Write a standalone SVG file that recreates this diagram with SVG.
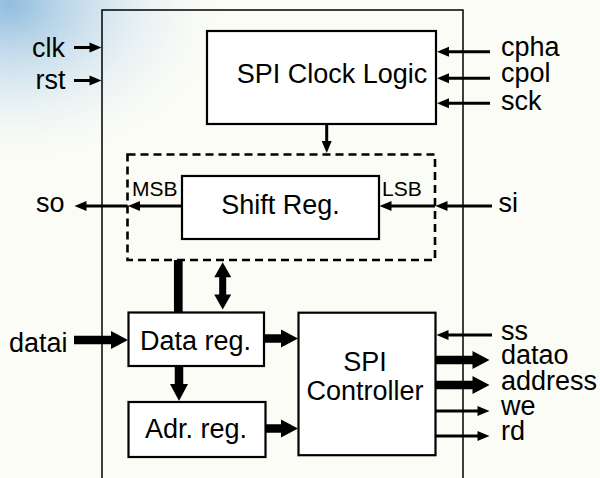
<svg xmlns="http://www.w3.org/2000/svg" width="600" height="478" viewBox="0 0 600 478">
<defs>
<radialGradient id="bg" cx="0" cy="0" r="1" gradientUnits="userSpaceOnUse" gradientTransform="translate(10,5) scale(230,170)">
<stop offset="0" stop-color="#7fb2db" stop-opacity="0.85"/>
<stop offset="0.45" stop-color="#b9d5ec" stop-opacity="0.5"/>
<stop offset="1" stop-color="#ffffff" stop-opacity="0"/>
</radialGradient>
<marker id="a" markerUnits="userSpaceOnUse" markerWidth="12" markerHeight="10" viewBox="0 0 12 10" refX="0.5" refY="5" orient="auto" overflow="visible"><path d="M0,0 L12,5 L0,10 z" fill="#000"/></marker>
<marker id="A" markerUnits="userSpaceOnUse" markerWidth="17" markerHeight="18" viewBox="0 0 17 18" refX="0.5" refY="9" orient="auto" overflow="visible"><path d="M0,0 L17,9 L0,18 z" fill="#000"/></marker>
<marker id="D" markerUnits="userSpaceOnUse" markerWidth="15" markerHeight="17" viewBox="0 0 15 17" refX="0.5" refY="8.5" orient="auto-start-reverse" overflow="visible"><path d="M0,0 L15,8.5 L0,17 z" fill="#000"/></marker>
</defs>
<style>
text{font-family:"Liberation Sans",Arial,sans-serif;font-size:27px;fill:#000}
.sm{font-size:21px}
.box{fill:#fff;stroke:#000;stroke-width:2.2}
.mid{text-anchor:middle}
.end{text-anchor:end}
.thin{stroke:#000;stroke-width:3;fill:none;marker-end:url(#a)}
.thick{stroke:#000;stroke-width:8.5;fill:none;marker-end:url(#A)}
</style>
<rect width="600" height="478" fill="#fbfcf5"/>
<rect width="600" height="478" fill="url(#bg)"/>
<rect id="top" x="102" y="10" width="361" height="490" fill="none" stroke="#000" stroke-width="1.5"/>
<g id="clocklogic"><rect class="box" x="207" y="31" width="229" height="93"/><text class="mid" x="332" y="83">SPI Clock Logic</text></g>
<g id="shiftgroup"><rect x="127.5" y="154.5" width="307.5" height="105.5" fill="none" stroke="#000" stroke-width="2.6" stroke-dasharray="8 5"/></g>
<g id="shiftreg"><rect class="box" x="182" y="176" width="197" height="63"/><text class="mid" x="280.5" y="213.5">Shift Reg.</text></g>
<g id="datareg"><rect class="box" x="128.5" y="312.5" width="135.5" height="53.5"/><text class="mid" x="195.5" y="350">Data reg.</text></g>
<g id="adrreg"><rect class="box" x="128.5" y="402" width="137" height="55"/><text class="mid" x="196" y="438">Adr. reg.</text></g>
<g id="controller"><rect class="box" x="298.5" y="312.7" width="137" height="142.5"/><text class="mid" x="365" y="370.5">SPI</text><text class="mid" x="365" y="400">Controller</text></g>
<g id="labels">
<text class="end" x="65" y="57">clk</text>
<text class="end" x="65.5" y="88.5">rst</text>
<text x="501" y="56">cpha</text>
<text x="501" y="82">cpol</text>
<text x="501" y="110">sck</text>
<text x="36" y="211.5">so</text>
<text x="498.5" y="211.5">si</text>
<text class="sm" x="132" y="196">MSB</text>
<text class="sm" x="382" y="196">LSB</text>
<text class="end" x="67.5" y="351.5">datai</text>
<text x="501" y="340">ss</text>
<text x="501" y="364">datao</text>
<text x="501" y="390">address</text>
<text x="501" y="415">we</text>
<text x="501" y="440">rd</text>
</g>
<g id="connectors">
<line class="thin" x1="74" y1="47.5" x2="90" y2="47.5"/>
<line class="thin" x1="74" y1="80.5" x2="90" y2="80.5"/>
<line class="thin" x1="490" y1="51.7" x2="448.5" y2="51.7"/>
<line class="thin" x1="490" y1="78.3" x2="448.5" y2="78.3"/>
<line class="thin" x1="490" y1="103.3" x2="448.5" y2="103.3"/>
<line class="thin" x1="326.7" y1="124" x2="326.7" y2="141.5"/>
<line class="thin" x1="182" y1="206" x2="139.5" y2="206"/>
<line class="thin" x1="127.5" y1="206" x2="86" y2="206"/>
<line class="thin" x1="492" y1="206" x2="447" y2="206"/>
<line class="thin" x1="435" y1="206" x2="391" y2="206"/>
<line stroke="#000" stroke-width="8.7" x1="178.3" y1="260" x2="178.3" y2="312.5"/>
<line stroke="#000" stroke-width="7" x1="222.7" y1="276.7" x2="222.7" y2="295" marker-start="url(#D)" marker-end="url(#D)"/>
<line class="thick" x1="74" y1="340" x2="111.5" y2="340"/>
<line class="thick" x1="264" y1="338.5" x2="281.5" y2="338.5"/>
<line class="thick" x1="265.5" y1="428.5" x2="281.5" y2="428.5"/>
<line class="thick" x1="179" y1="366" x2="179" y2="384.5"/>
<line class="thin" x1="492" y1="335" x2="448" y2="335"/>
<line class="thick" x1="436" y1="360" x2="473" y2="360"/>
<line class="thick" x1="436" y1="385" x2="473" y2="385"/>
<line class="thin" x1="436" y1="411" x2="478" y2="411"/>
<line class="thin" x1="436" y1="436" x2="478" y2="436"/>
</g>
</svg>
